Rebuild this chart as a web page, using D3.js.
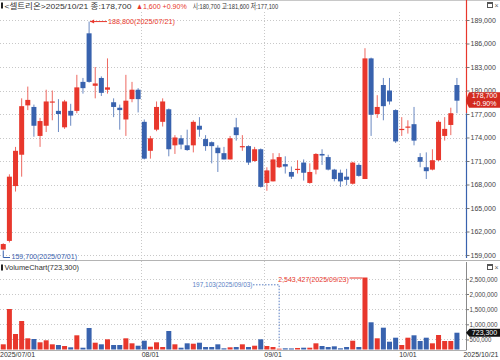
<!DOCTYPE html>
<html><head><meta charset="utf-8">
<script src="https://cdn.jsdelivr.net/npm/d3@7"></script>
<style>
body{margin:0;background:#fff}
svg{display:block}
text{font-family:"Liberation Sans",Arial,"Noto Sans CJK KR",sans-serif}
</style>
</head><body>
<svg id="c" width="500" height="360"></svg>
<script>
const dates = [
"2025/07/01","2025/07/02","2025/07/03","2025/07/04","2025/07/07","2025/07/08","2025/07/09","2025/07/10","2025/07/11",
"2025/07/14","2025/07/15","2025/07/16","2025/07/17","2025/07/18","2025/07/21","2025/07/22","2025/07/23","2025/07/24",
"2025/07/25","2025/07/28","2025/07/29","2025/07/30","2025/07/31",
"2025/08/01","2025/08/04","2025/08/05","2025/08/06","2025/08/07","2025/08/08","2025/08/11","2025/08/12","2025/08/13",
"2025/08/14","2025/08/18","2025/08/19","2025/08/20","2025/08/21","2025/08/22","2025/08/25","2025/08/26","2025/08/27",
"2025/08/28","2025/08/29",
"2025/09/01","2025/09/02","2025/09/03","2025/09/04","2025/09/05","2025/09/08","2025/09/09","2025/09/10","2025/09/11",
"2025/09/12","2025/09/15","2025/09/16","2025/09/17","2025/09/18","2025/09/19","2025/09/22","2025/09/23","2025/09/24",
"2025/09/25","2025/09/26","2025/09/29","2025/09/30",
"2025/10/01","2025/10/02","2025/10/10","2025/10/13","2025/10/14","2025/10/15","2025/10/16","2025/10/17","2025/10/20","2025/10/21"];

const open = [159700,160800,167800,171800,178100,177900,174200,175500,178500,177400,175300,177400,177400,181100,187300,180600,181600,180100,178500,177800,176300,178900,180100,
176000,172300,175000,176000,177600,173000,173900,173000,173000,175500,173800,173400,172700,172000,171200,175300,172800,172900,171000,172500,
168200,168400,170200,170600,169600,169900,170800,168200,169900,171900,171500,169900,169500,169000,168100,170500,168700,184100,177000,180700,180000,177500,
175000,175300,175700,171500,170200,169900,171100,174200,175600,180700];
const high = [160500,169300,172800,179000,180500,178200,176500,180100,180000,178900,178800,178300,182000,181600,188800,183000,181800,184100,179000,178200,182000,181100,180300,
176300,174200,178600,179000,177700,174300,174300,175000,176200,176600,174300,173500,173000,172800,174200,176500,174300,173000,172800,172600,
170200,172000,172000,171600,170300,171100,171200,170700,172000,172500,171800,170000,169900,170000,170900,170700,185400,184200,179400,181600,181600,177600,
176600,176200,177900,172000,172100,172500,176200,176600,177800,181600];
const low = [159700,160600,167100,169000,177500,174100,172800,174700,176200,174700,175100,175500,177100,179600,181000,179000,179300,179600,176600,175000,174200,178500,177200,
171200,171300,174800,175400,171600,171900,172500,172300,172100,174100,172300,170700,169600,171200,171200,173600,172300,170500,170900,167600,
167200,168400,170100,169400,168700,169400,168500,168100,169300,170500,169800,168400,167700,167900,168000,169000,168700,174200,176500,176200,178200,173300,
174200,174500,173000,170200,168700,169800,171000,173600,174300,177100];
const close = [160400,169000,172300,178000,178800,175500,176100,178600,178600,177000,178600,176800,180400,180300,181100,180900,179700,180400,177900,177500,178700,180100,178900,
171300,173900,177900,178600,172500,174000,173100,172400,176000,175000,172900,172900,172000,171200,173900,174300,172900,170800,172500,167700,
169800,171200,171500,170300,169000,170000,169500,169600,171900,171700,169900,168700,168400,168600,170800,169100,184100,176900,177900,178000,178600,173500,
175100,175400,173600,170900,169700,171100,176000,175100,177100,178700];
const volume = [341000,1505000,681000,1109000,539000,516000,407000,473000,341000,318000,285000,242000,638000,229000,879000,394000,341000,506000,318000,318000,539000,374000,295000,
460000,262000,407000,252000,780000,341000,229000,374000,361000,394000,252000,252000,341000,209000,242000,252000,341000,252000,295000,506000,
285000,252000,197103,209000,205000,220000,229000,229000,374000,285000,252000,275000,209000,252000,460000,252000,2543427,1067000,539000,889000,427000,559000,
318000,559000,638000,450000,559000,374000,648000,450000,450000,723300];

const priceTicks = [159000,162000,165000,168000,171000,174000,177000,180000,183000,186000,189000];
const volumeTicks = [500000,1000000,1500000,2000000,2500000];
const monthStarts = ["2025/08/01","2025/09/01","2025/10/01"];
const monthLabels = ["08/01","09/01","10/01"];
const firstDateLabel = "2025/07/01";
const lastDateLabel = "2025/10/21";
const stockName = "셀트리온";
const prevClose = 177100;

const UP = "#e8372c", DOWN = "#3862ae", GRID = "#c8c8c8", TXT = "#333";
const fmt = d3.format(",");
const svg = d3.select("#c");

const x = d3.scaleBand().domain(dates).range([0.2, 460]).padding(0);
const cx = d => x(d) + x.bandwidth() / 2;
const yP = d3.scaleLinear().domain([159000, 189000]).range([255, 20]);
const yV = d3.scaleLinear().domain([170000, d3.max(volume)]).range([349.5, 277.5]);

const data = dates.map((d, i) => ({d, o: open[i], h: high[i], l: low[i], c: close[i], v: volume[i]}));
const col = r => r.c >= r.o ? UP : DOWN;

// frame lines
svg.append("line").attr("x1",0).attr("x2",500).attr("y1",0.5).attr("y2",0.5).attr("stroke","#c8c8c8");
svg.append("line").attr("x1",0).attr("x2",500).attr("y1",260.5).attr("y2",260.5).attr("stroke","#b4b4b4");

// gridlines
const g = svg.append("g");
g.selectAll(".hp").data(priceTicks).join("line")
  .attr("x1",0).attr("x2",466).attr("y1",d=>Math.round(yP(d))+0.5).attr("y2",d=>Math.round(yP(d))+0.5)
  .attr("stroke",GRID).attr("stroke-dasharray","1,2");
g.selectAll(".hv").data(volumeTicks).join("line")
  .attr("x1",0).attr("x2",466).attr("y1",d=>Math.round(yV(d))+0.5).attr("y2",d=>Math.round(yV(d))+0.5)
  .attr("stroke",GRID).attr("stroke-dasharray","1,2");
g.selectAll(".vm").data(monthStarts).join("line")
  .attr("x1",d=>Math.round(x(d))+0.5).attr("x2",d=>Math.round(x(d))+0.5).attr("y1",12).attr("y2",350)
  .attr("stroke",GRID).attr("stroke-dasharray","1,2");

// candles
const cg = svg.append("g");
cg.selectAll(".wick").data(data).join("line")
  .attr("x1",r=>cx(r.d)).attr("x2",r=>cx(r.d)).attr("y1",r=>yP(r.h)).attr("y2",r=>yP(r.l))
  .attr("stroke",col).attr("stroke-width",1).attr("stroke-opacity",0.75);
cg.selectAll(".body").data(data).join("rect")
  .attr("x",r=>cx(r.d)-2.5).attr("width",5)
  .attr("y",r=>yP(Math.max(r.o,r.c)))
  .attr("height",r=>Math.max(1.2, Math.abs(yP(r.o)-yP(r.c))))
  .attr("fill",col);

// volume bars
svg.append("g").selectAll("rect").data(data).join("rect")
  .attr("x",r=>cx(r.d)-2.5).attr("width",5)
  .attr("y",r=>yV(r.v)).attr("height",r=>Math.max(0.8, yV.range()[0]-yV(r.v)))
  .attr("fill",col);

// axis lines
const yPrev = yP(prevClose);
svg.append("line").attr("x1",466.5).attr("x2",466.5).attr("y1",0).attr("y2",yPrev).attr("stroke",UP).attr("stroke-width",1.2);
svg.append("line").attr("x1",466.5).attr("x2",466.5).attr("y1",yPrev).attr("y2",258).attr("stroke",DOWN).attr("stroke-width",1.2);
svg.append("line").attr("x1",466.5).attr("x2",466.5).attr("y1",262).attr("y2",350).attr("stroke","#8a8a8a");
svg.append("line").attr("x1",0).attr("x2",466.5).attr("y1",350.5).attr("y2",350.5).attr("stroke","#b0b0b0");

// right axes
const pAxis = svg.append("g").attr("transform","translate(466.5,0)")
  .call(d3.axisRight(yP).tickValues(priceTicks).tickFormat(fmt).tickSize(3).tickPadding(1));
pAxis.select(".domain").remove();
pAxis.selectAll("text").attr("font-size",7).attr("fill","#444").attr("font-family",'"Liberation Sans",Arial,sans-serif');
pAxis.selectAll("line").attr("stroke","#777");

const vAxis = svg.append("g").attr("transform","translate(466.5,0)")
  .call(d3.axisRight(yV).tickValues(volumeTicks).tickFormat(fmt).tickSize(2.5).tickPadding(0.5));
vAxis.select(".domain").remove();
vAxis.selectAll("text").attr("font-size",7).attr("fill","#444").attr("font-family",'"Liberation Sans",Arial,sans-serif')
  .attr("textLength",d=>fmt(d).length*3.12).attr("lengthAdjust","spacingAndGlyphs");
vAxis.selectAll("line").attr("stroke","#777");

// x labels
const xl = svg.append("g").attr("font-size",7).attr("fill",TXT);
xl.append("text").attr("x",0).attr("y",357).text(firstDateLabel);
xl.selectAll(".m").data(monthStarts).join("text").attr("x",d=>x(d)+0.5).attr("y",357).text((d,i)=>monthLabels[i]);
xl.append("text").attr("x",498.5).attr("y",357).attr("text-anchor","end").text(lastDateLabel);

// header
const last = data[data.length-1];
const chg = last.c - prevClose;
const pct = (chg / prevClose * 100).toFixed(2);
svg.append("rect").attr("x",1).attr("y",2.5).attr("width",2).attr("height",6).attr("fill","#222");
svg.append("text").attr("x",4.5).attr("y",8.5).attr("font-size",8).attr("fill",TXT)
  .attr("textLength",127).attr("lengthAdjust","spacingAndGlyphs")
  .text(`<${stockName}>${last.d} 종:${fmt(last.c)}`);
svg.append("text").attr("x",136).attr("y",8.5).attr("font-size",8).attr("fill",UP)
  .attr("textLength",50.7).attr("lengthAdjust","spacingAndGlyphs")
  .text(`▲${fmt(chg)} +${pct}%`);
svg.append("text").attr("x",192.7).attr("y",8.5).attr("font-size",8).attr("fill",TXT)
  .attr("textLength",85.5).attr("lengthAdjust","spacingAndGlyphs")
  .text(`시:${fmt(last.o)} 고:${fmt(last.h)} 저:${fmt(last.l)}`);

// window icons
function icons(y0){
  svg.append("rect").attr("x",487.5).attr("y",y0+0.5).attr("width",5).attr("height",5).attr("fill","none").attr("stroke","#555");
  svg.append("line").attr("x1",487.5).attr("x2",492.5).attr("y1",y0+1.5).attr("y2",y0+1.5).attr("stroke","#555");
  svg.append("text").attr("x",494.5).attr("y",y0+6).attr("font-size",7).attr("fill","#666").text("×");
}
icons(2); icons(264);

// volume header
svg.append("rect").attr("x",1).attr("y",264.5).attr("width",2).attr("height",6).attr("fill","#222");
svg.append("text").attr("x",4.5).attr("y",270.3).attr("font-size",8).attr("fill",TXT)
  .attr("textLength",74.5).attr("lengthAdjust","spacingAndGlyphs")
  .text(`VolumeChart(${fmt(last.v)})`);

// high / low markers
const iH = d3.maxIndex(high), iL = d3.minIndex(low);
const hx = cx(dates[iH]), hy = yP(high[iH]);
svg.append("line").attr("x1",hx+1).attr("x2",107).attr("y1",hy).attr("y2",hy).attr("stroke",UP);
svg.append("path").attr("d",`M${hx+1},${hy} l4,-2 l0,4 z`).attr("fill",UP);
svg.append("text").attr("x",108).attr("y",hy+2.6).attr("font-size",7.5).attr("fill",UP)
  .attr("textLength",67).attr("lengthAdjust","spacingAndGlyphs")
  .text(`${fmt(high[iH])}(${dates[iH]})`);
const lx = cx(dates[iL]), ly = yP(low[iL]);
svg.append("path").attr("d",`M${lx},${ly+1} V257.5 H10`).attr("fill","none").attr("stroke",DOWN);
svg.append("text").attr("x",11.5).attr("y",259.3).attr("font-size",7.5).attr("fill",DOWN)
  .attr("textLength",65.5).attr("lengthAdjust","spacingAndGlyphs")
  .text(`${fmt(low[iL])}(${dates[iL]})`);

// volume max / min markers
const iVH = d3.maxIndex(volume), iVL = d3.minIndex(volume);
const vhx = cx(dates[iVH]), vhy = yV(volume[iVH]);
svg.append("line").attr("x1",349.5).attr("x2",vhx-2.5).attr("y1",vhy+0.5).attr("y2",vhy+0.5).attr("stroke",UP);
svg.append("text").attr("x",348.8).attr("y",vhy+4.3).attr("text-anchor","end").attr("font-size",7.5).attr("fill",UP)
  .attr("textLength",70.5).attr("lengthAdjust","spacingAndGlyphs")
  .text(`${fmt(volume[iVH])}(${dates[iVH]})`);
const vlx = cx(dates[iVL]), vly = yV(volume[iVL]);
svg.append("path").attr("d",`M253,284.8 H${vlx} V${vly}`).attr("fill","none").attr("stroke","#5b7fc4").attr("stroke-dasharray","1.5,1.5");
svg.append("text").attr("x",252.5).attr("y",287.3).attr("text-anchor","end").attr("font-size",7.5).attr("fill","#5b7fc4")
  .attr("textLength",60).attr("lengthAdjust","spacingAndGlyphs")
  .text(`${fmt(volume[iVL])}(${dates[iVL]})`);

// current price tag
const cy = yP(last.c);
svg.append("path").attr("d",`M466,${cy-1} L469,${cy-8.5} H500 V${cy+7} H469 L466,${cy+1} Z`).attr("fill","#d32a20");
svg.append("text").attr("x",484.5).attr("y",cy-2.2).attr("text-anchor","middle").attr("font-size",7).attr("fill","#fff").text(fmt(last.c));
svg.append("text").attr("x",484.5).attr("y",cy+5.2).attr("text-anchor","middle").attr("font-size",7).attr("fill","#fff").text(`+${pct}%`);
// current volume tag
const vy = yV(last.v);
svg.append("path").attr("d",`M466,${vy} L469.5,${vy-4} H500 V${vy+4} H469.5 Z`).attr("fill","#111");
svg.append("text").attr("x",484.5).attr("y",vy+2.6).attr("text-anchor","middle").attr("font-size",7).attr("fill","#fff").text(fmt(last.v));
</script>
</body></html>
